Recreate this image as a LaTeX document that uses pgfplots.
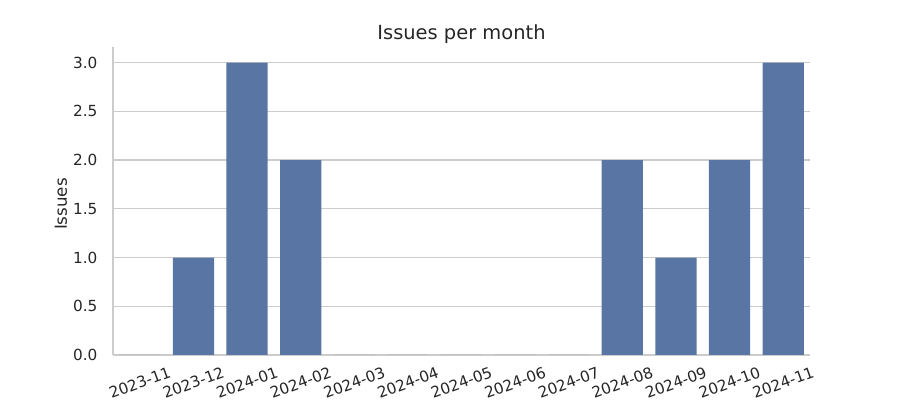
\documentclass[border=0pt]{standalone}
\usepackage{fontspec}
\setmainfont{DejaVu Sans}
\usepackage{pgfplots}
\pgfplotsset{compat=1.18}
\definecolor{barblue}{RGB}{89,117,164}
\definecolor{gridgray}{RGB}{204,204,204}
\definecolor{txt}{RGB}{38,38,38}
\newcommand\rl[1]{\rotatebox{20}{#1}}

\begin{document}
\begin{tikzpicture}
\begin{axis}[
    name=ax,
    scale only axis,
    width=501.84pt, height=221.76pt,
    ybar, bar width=0.77,
    xmin=-0.5, xmax=12.5,
    ymin=0, ymax=3.16,
    xtick={0,...,12},
    xticklabels={\rl{2023-11},\rl{2023-12},\rl{2024-01},\rl{2024-02},\rl{2024-03},\rl{2024-04},\rl{2024-05},\rl{2024-06},\rl{2024-07},\rl{2024-08},\rl{2024-09},\rl{2024-10},\rl{2024-11}},
    ytick={0,0.5,...,3.0},
    /pgf/number format/assume math mode=true,
    /pgf/number format/fixed, /pgf/number format/fixed zerofill, /pgf/number format/precision=1,
    yticklabel style={font=\fontsize{11}{13}\selectfont, text=txt, anchor=east, inner sep=0pt, xshift=-11pt},
    xticklabel style={font=\fontsize{11}{13}\selectfont, text=txt, anchor=north, inner sep=0pt, yshift=-8pt},
    major tick length=0pt,
    axis x line*=bottom, axis y line*=left,
    axis line style={gridgray, line width=1.25pt, -},
    ymajorgrids, grid style={gridgray, line width=1pt},
    ylabel={Issues},
    ylabel style={font=\fontsize{12}{14}\selectfont, text=txt, at={(axis description cs:-0.0746,0.49)}, anchor=center},
    title={Issues per month},
    every axis title shift=0pt,
    title style={font=\fontsize{14}{16}\selectfont, text=txt, at={(axis description cs:0.5,1.042)}, anchor=center},
]
\addplot[fill=barblue, draw=none] coordinates {
    (0,0) (1,1) (2,3) (3,2) (4,0) (5,0) (6,0) (7,0) (8,0) (9,2) (10,1) (11,2) (12,3)
};
\coordinate (sw) at (rel axis cs:0,0);
\coordinate (ne) at (rel axis cs:1,1);
\end{axis}
\pgfresetboundingbox
\path[use as bounding box] ([xshift=-81.36pt, yshift=-32.4pt]sw) rectangle ([xshift=64.8pt, yshift=33.84pt]ne);
\end{tikzpicture}
\end{document}
